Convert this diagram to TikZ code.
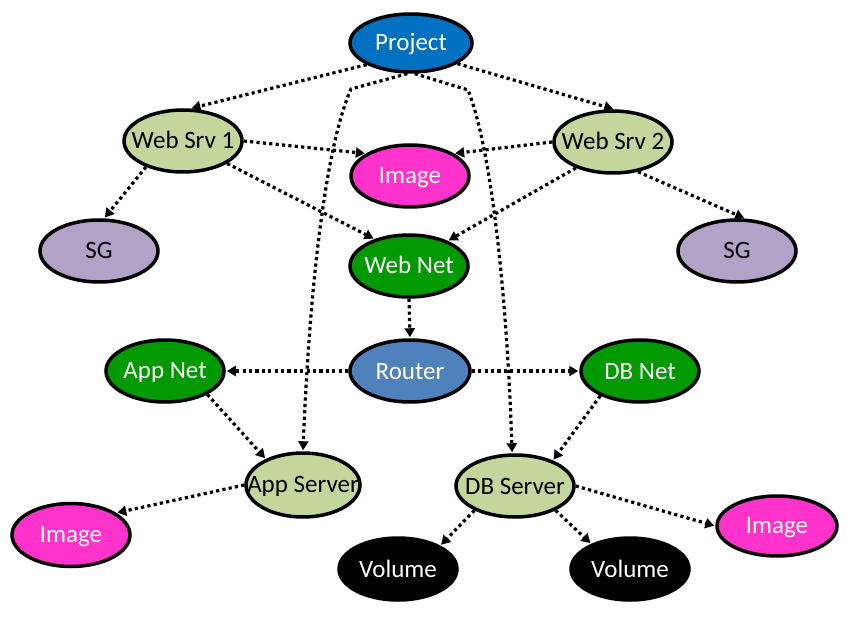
\documentclass[tikz,border=0pt]{standalone}
\usepackage{fontspec}
\setmainfont{Carlito}
\usetikzlibrary{shapes.geometric,arrows.meta}
\definecolor{cproj}{HTML}{0070C0}
\definecolor{csrv}{HTML}{C3D69B}
\definecolor{cimg}{HTML}{FF33CC}
\definecolor{csg}{HTML}{B3A2C7}
\definecolor{cnet}{HTML}{009900}
\definecolor{crout}{HTML}{4F81BD}
\newcommand{\lbl}[1]{\makebox[0pt]{\rule[-4pt]{0pt}{24pt}#1}}
\tikzset{
  ell/.style={ellipse, draw=black, line width=3.5pt, minimum width=118pt, minimum height=62pt, inner sep=0pt,
    font=\fontsize{25}{30}\selectfont},
  wtxt/.style={ell, text=white},
  btxt/.style={ell, text=black},
  conn/.style={line width=3.2pt, dash pattern=on 3.2pt off 3.2pt, -{Triangle[length=9pt,width=10pt]}, shorten >=1pt}
}
\begin{document}
\begin{tikzpicture}[x=1pt,y=-1pt]
\useasboundingbox (0,0) rectangle (867,617);
\node[wtxt, fill=cproj, minimum width=122pt, minimum height=58pt] (proj) at (411,43) {\lbl{Project}};
\node[btxt, fill=csrv] (ws1) at (183,141) {\lbl{Web Srv 1}};
\node[btxt, fill=csrv] (ws2) at (613,142) {\lbl{Web Srv 2}};
\node[wtxt, fill=cimg] (img1) at (410,176) {\lbl{Image}};
\node[btxt, fill=csg] (sg1) at (99,251) {\lbl{SG}};
\node[btxt, fill=csg] (sg2) at (737,251) {\lbl{SG}};
\node[wtxt, fill=cnet] (wnet) at (409,266) {\lbl{Web Net}};
\node[wtxt, fill=crout, minimum width=120pt] (rout) at (410,371) {\lbl{Router}};
\node[wtxt, fill=cnet] (anet) at (165,371) {\lbl{App Net}};
\node[wtxt, fill=cnet] (dnet) at (640,371) {\lbl{DB Net}};
\node[btxt, fill=csrv, minimum width=114pt, minimum height=64pt] (as) at (303,485) {\lbl{App Server}};
\node[btxt, fill=csrv] (ds) at (515,486) {\lbl{DB Server}};
\node[wtxt, fill=cimg, minimum height=63pt] (img2) at (71,535) {\lbl{Image}};
\node[wtxt, fill=cimg, minimum width=120pt, minimum height=60pt] (img3) at (777,526) {\lbl{Image}};
\node[wtxt, fill=black] (vol1) at (398,569) {\lbl{Volume}};
\node[wtxt, fill=black] (vol2) at (630,569) {\lbl{Volume}};

\draw[conn] (proj.206) -- (ws1.77);
\draw[conn] (proj.336) -- (ws2.88);
\draw[conn] (proj.263) -- (351,89) .. controls (324,150) and (309,300) .. (as.north);
\draw[conn] (proj.277) -- (468,90) .. controls (492,150) and (507,300) .. (ds.95);
\draw[conn] (ws1.0) -- (img1.153);
\draw[conn] (ws2.180) -- (img1.27);
\draw[conn] (ws1.215) -- (sg1.81);
\draw[conn] (ws2.310) -- (sg2.76);
\draw[conn] (ws1.333) -- (wnet.142);
\draw[conn] (ws2.215) -- (wnet.33);
\draw[conn] (wnet.south) -- (rout.north);
\draw[conn] (rout.west) -- (anet.east);
\draw[conn] (rout.east) -- (dnet.west);
\draw[conn] (anet.331) -- (as.145);
\draw[conn] (dnet.212) -- (ds.34);
\draw[conn] (as.180) -- (img2.26);
\draw[conn] (ds.0) -- (img3.180);
\draw[conn] (ds.211) -- (vol1.29);
\draw[conn] (ds.329) -- (vol2.147);
\end{tikzpicture}
\end{document}
